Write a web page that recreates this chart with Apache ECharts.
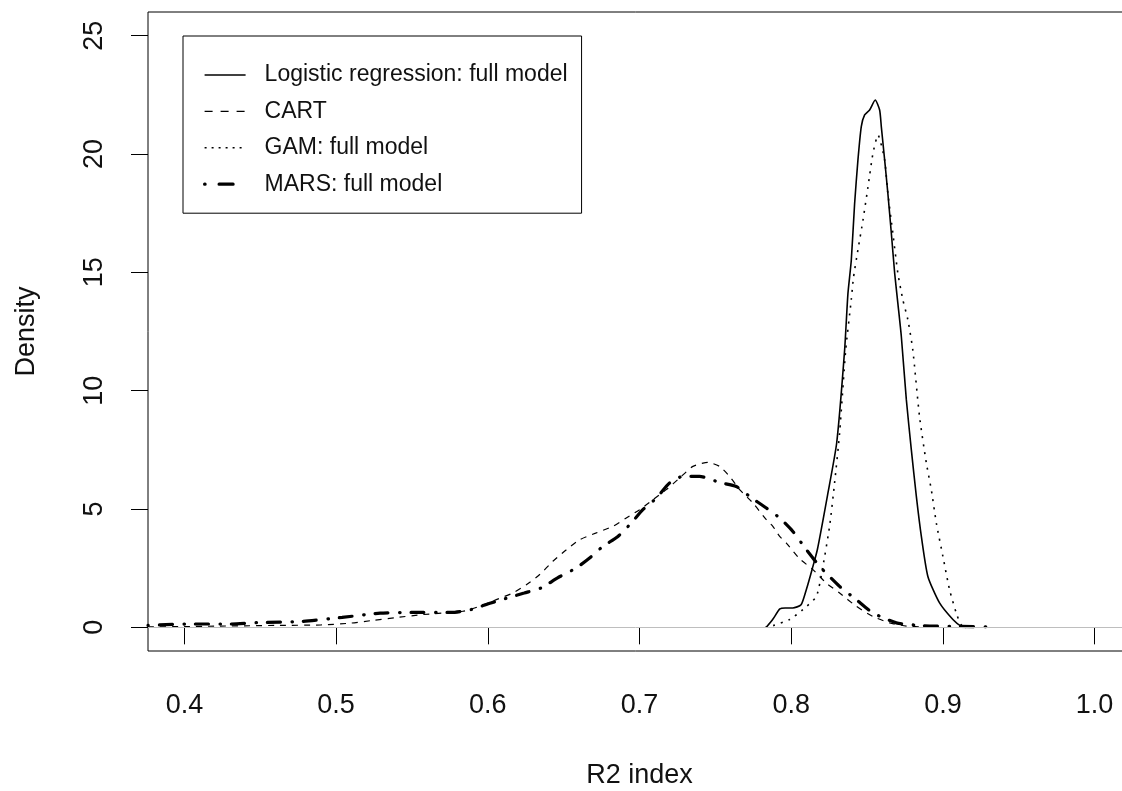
<!DOCTYPE html>
<html><head><meta charset="utf-8">
<script src="https://cdn.jsdelivr.net/npm/echarts@6/dist/echarts.min.js"></script>
<style>html,body{margin:0;padding:0;background:#fff}#chart{width:1122px;height:791px}</style>
</head><body><div id="chart"></div>
<script>
const seriesNames = ['Logistic regression: full model', 'CART', 'GAM: full model', 'MARS: full model'];
const xTicks = [0.4, 0.5, 0.6, 0.7, 0.8, 0.9, 1.0];
const yTicks = [0, 5, 10, 15, 20, 25];

const logisticData = [
  [0.7836,0],[0.7880,0.35],[0.7925,0.78],[0.7960,0.82],[0.8010,0.82],[0.8065,0.95],[0.8100,1.6],
  [0.8140,2.5],[0.8173,3.3],[0.8240,5.6],[0.8300,7.8],[0.8352,11.7],[0.8374,14.1],[0.8396,15.5],
  [0.8418,17.9],[0.8440,19.75],[0.8462,21.16],[0.8484,21.65],[0.8517,21.86],[0.8554,22.28],
  [0.8583,21.86],[0.8594,21.16],[0.8616,19.75],[0.8637,18.35],[0.8660,16.66],[0.8682,14.97],
  [0.8703,13.7],[0.8726,12.29],[0.8759,9.62],[0.8792,7.5],[0.8825,5.53],[0.8858,3.84],
  [0.8901,2.15],[0.8978,1.03],[0.9066,0.33],[0.9121,0.04],[0.9150,0]
];
const cartData = [
  [0.376,0.02],[0.40,0.03],[0.42,0.05],[0.46,0.08],[0.49,0.10],[0.51,0.18],[0.525,0.30],
  [0.5405,0.42],[0.5572,0.54],[0.5836,0.68],[0.5946,0.89],[0.6056,1.17],[0.6165,1.45],
  [0.6254,1.8],[0.6342,2.23],[0.6429,2.79],[0.6518,3.28],[0.6605,3.7],[0.6715,3.99],
  [0.6825,4.27],[0.6913,4.62],[0.7001,4.97],[0.7088,5.39],[0.7177,5.82],[0.7264,6.31],
  [0.7352,6.8],[0.7451,6.97],[0.7528,6.8],[0.7594,6.38],[0.7660,5.82],[0.7748,5.25],
  [0.7836,4.55],[0.7879,4.27],[0.7924,3.84],[0.7968,3.56],[0.8055,2.9],[0.8143,2.44],
  [0.8231,1.87],[0.8319,1.45],[0.8429,0.89],[0.8539,0.46],[0.8649,0.19],[0.8759,0.05],[0.888,0.01]
];
const gamData = [
  [0.7830,0],[0.7880,0.07],[0.7990,0.33],[0.8077,0.75],[0.8166,1.31],[0.8209,2.58],[0.8253,4.27],
  [0.8286,6.1],[0.8319,8.2],[0.8359,11.7],[0.8396,13.84],[0.8411,14.8],[0.8440,15.95],
  [0.8473,17.2],[0.8506,18.6],[0.8539,20.03],[0.8572,20.8],[0.8616,19.75],[0.8637,18.35],
  [0.8670,16.66],[0.8703,14.97],[0.8736,13.84],[0.8769,13.0],[0.8802,11.7],[0.8846,8.9],
  [0.8891,6.94],[0.8924,5.8],[0.8957,4.4],[0.9000,3.0],[0.9044,1.59],[0.9088,0.61],
  [0.9121,0.11],[0.9176,0.02]
];
const marsData = [
  [0.376,0.08],[0.382,0.10],[0.402,0.14],[0.430,0.14],[0.448,0.20],[0.478,0.25],[0.504,0.42],
  [0.529,0.60],[0.550,0.63],[0.576,0.63],[0.589,0.75],[0.602,1.03],[0.624,1.45],[0.635,1.66],
  [0.646,2.09],[0.6583,2.51],[0.6671,2.93],[0.6759,3.42],[0.6858,3.84],[0.6946,4.41],
  [0.7022,4.97],[0.7111,5.46],[0.7198,6.1],[0.7286,6.38],[0.7396,6.38],[0.7528,6.12],
  [0.7638,5.95],[0.7726,5.53],[0.7836,5.04],[0.7924,4.62],[0.8011,4.05],[0.8100,3.28],
  [0.8187,2.58],[0.8319,1.73],[0.8429,1.17],[0.8539,0.61],[0.8693,0.19],[0.8868,0.07],
  [0.9088,0.04],[0.933,0.02]
];

const FONT = "'Liberation Sans', Arial, sans-serif";
const chart = echarts.init(document.getElementById('chart'), null, {renderer: 'canvas'});

function lineSeries(name, data, width, type, cap) {
  return {
    name: name, type: 'line', data: data, symbol: 'none', smooth: 0.2,
    lineStyle: {color: '#000', width: width, type: type, cap: cap || 'butt'},
    itemStyle: {color: '#000'}, animation: false, z: 3
  };
}

const s0 = lineSeries(seriesNames[0], logisticData, 1.6, 'solid');
s0.markLine = {
  silent: true, symbol: 'none', animation: false, label: {show: false},
  lineStyle: {color: '#bebebe', width: 1, type: 'solid'},
  data: [{yAxis: 0}]
};

const option = {
  backgroundColor: '#fff',
  animation: false,
  grid: {left: 148, top: 12, width: 983, height: 639, show: true, borderColor: '#000', borderWidth: 1,
    backgroundColor: 'transparent', containLabel: false, outerBoundsMode: 'none'},
  xAxis: {
    type: 'value', min: 0.376, max: 1.024,
    name: 'R2 index', nameLocation: 'middle', nameGap: 111,
    nameTextStyle: {fontFamily: FONT, fontSize: 27, color: '#111'},
    axisLine: {show: false},
    axisTick: {show: true, inside: false, length: 17, lineStyle: {color: '#000', width: 1}, customValues: xTicks},
    axisLabel: {show: true, margin: 41, fontFamily: FONT, fontSize: 27, color: '#111', customValues: xTicks,
      formatter: v => Number(v).toFixed(1)},
    splitLine: {show: false}
  },
  yAxis: {
    type: 'value', min: -1, max: 26,
    name: 'Density', nameLocation: 'middle', nameGap: 108, nameRotate: 90,
    nameTextStyle: {fontFamily: FONT, fontSize: 27, color: '#111'},
    axisLine: {show: false},
    axisTick: {show: true, inside: false, length: 17, lineStyle: {color: '#000', width: 1}, customValues: yTicks},
    axisLabel: {show: true, rotate: 90, margin: 40, fontFamily: FONT, fontSize: 27, color: '#111', customValues: yTicks,
      formatter: v => String(v)},
    splitLine: {show: false}
  },
  legend: {
    show: true, orient: 'vertical', left: 183, top: 36,
    padding: [27, 14, 17, 20], itemGap: 12.4, itemWidth: 41, itemHeight: 14,
    borderColor: '#000', borderWidth: 1, backgroundColor: '#fff',
    textStyle: {fontFamily: FONT, fontSize: 23, color: '#111', lineHeight: 24, padding: [0, 0, 0, 14]},
    itemStyle: {opacity: 0},
    selectedMode: false,
    data: [
      {name: seriesNames[0], lineStyle: {type: 'solid', width: 1.6}},
      {name: seriesNames[1], lineStyle: {type: [8, 8], width: 1.4}},
      {name: seriesNames[2], lineStyle: {type: [2, 5], width: 1.6}},
      {name: seriesNames[3], lineStyle: {type: [0.5, 14, 14, 14], width: 3.2, cap: 'round'}}
    ]
  },
  series: [
    s0,
    lineSeries(seriesNames[1], cartData, 1.2, [6, 6]),
    lineSeries(seriesNames[2], gamData, 1.6, [2, 6]),
    lineSeries(seriesNames[3], marsData, 3.2, [0.5, 11, 13, 11.5], 'round')
  ]
};
chart.setOption(option);
</script></body></html>
